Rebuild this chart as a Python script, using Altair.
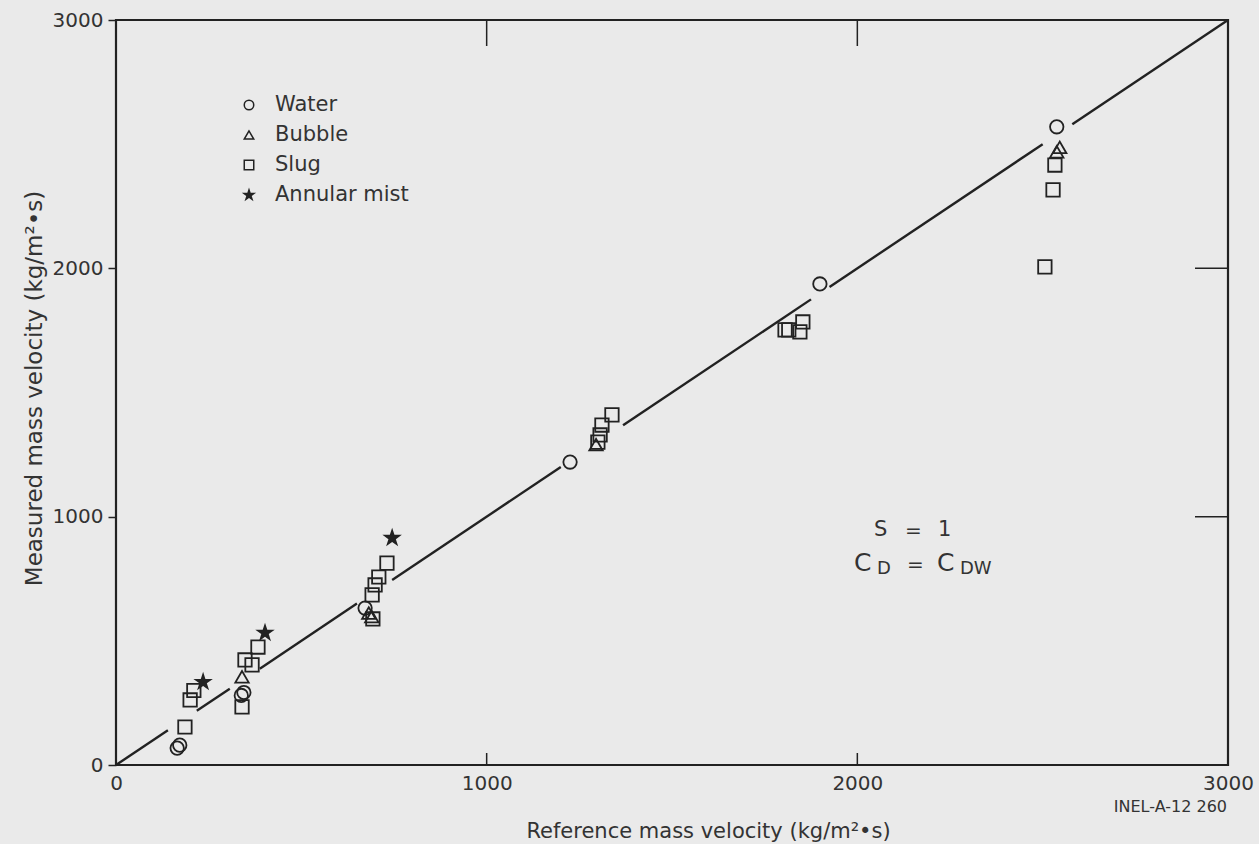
import altair as alt
import pandas as pd

# ---- data ----
water_x = [165, 172, 338, 345, 672, 1225, 1899, 2538]
water_y = [68, 80, 280, 292, 632, 1220, 1937, 2570]

bubble_x = [340, 682, 690, 1295, 2538, 2546]
bubble_y = [355, 612, 598, 1290, 2469, 2487]

slug_x = [186, 200, 210, 340, 348, 367, 383, 691, 699, 709, 731, 693,
          1300, 1306, 1311, 1338, 1805, 1815, 1845, 1853, 2533, 2528, 2506]
slug_y = [153, 262, 300, 234, 423, 403, 475, 685, 725, 757, 813, 588,
          1300, 1329, 1369, 1410, 1752, 1752, 1744, 1784, 2416, 2316, 2006]

mist_x = [235, 402, 745]
mist_y = [334, 532, 914]

regimes = ["Water", "Bubble", "Slug", "Annular mist"]

# the 1:1 line, drawn in pieces with gaps around the data points
seg_start = [0, 218, 388, 745, 1368, 1925, 2580]
seg_end = [140, 307, 650, 1200, 1875, 2500, 3000]

tick_values = [1000, 2000]
axis_values = [0, 1000, 2000, 3000]

note_text = ["S", "=", "1", "C", "D", "=", "C", "DW"]

# five-pointed star outline in the unit box (-1..1)
STAR = ("M0,-1L0.2245,-0.309L0.951,-0.309L0.363,0.118L0.588,0.809L0,0.382"
        "L-0.588,0.809L-0.363,0.118L-0.951,-0.309L-0.2245,-0.309Z")
shapes = ["circle", "triangle-up", "square", STAR]
filled = [False, False, False, True]

series = [(water_x, water_y), (bubble_x, bubble_y), (slug_x, slug_y), (mist_x, mist_y)]
segs = pd.DataFrame({"ref": seg_start, "meas": seg_start, "e": seg_end})
ticks = pd.DataFrame({"ref": tick_values, "meas": tick_values})

W, H = 1112, 745
INK = "#222222"
TXT = "#333333"
FONT = "DejaVu Sans"

xscale = alt.Scale(domain=[0, 3000], nice=False, zero=False)
yscale = alt.Scale(domain=[0, 3000], nice=False, zero=False)

x_axis = alt.Axis(orient="bottom", values=axis_values, format="d",
                  title="Reference mass velocity (kg/m²•s)",
                  grid=False, ticks=False, domain=False, labelPadding=8, labelFlush=False,
                  labelFont=FONT, labelFontSize=20, labelColor=TXT,
                  titleFont=FONT, titleFontSize=21, titleFontWeight="normal",
                  titleColor=TXT, titleX=592, titleY=66,
                  titleBaseline="middle", titleAlign="center")
y_axis = alt.Axis(orient="left", values=axis_values, format="d",
                  title="Measured mass velocity (kg/m²•s)",
                  grid=False, ticks=True, tickSize=8, tickColor=INK, tickWidth=1.5,
                  domain=False, labelPadding=5, labelFlush=False,
                  labelFont=FONT, labelFontSize=20, labelColor=TXT,
                  titleFont=FONT, titleFontSize=23, titleFontWeight="normal",
                  titleColor=TXT, titleX=-82, titleY=368, titleAngle=270,
                  titleBaseline="middle", titleAlign="center")

X = alt.X("ref:Q", scale=xscale, axis=x_axis)
Y = alt.Y("meas:Q", scale=yscale, axis=y_axis)

line = alt.Chart(segs).mark_rule(color=INK, strokeWidth=2.4).encode(
    x=X, y=Y, x2="e:Q", y2="e:Q")

top_ticks = alt.Chart(ticks).mark_rule(color=INK, strokeWidth=1.5).encode(
    x=X, y=alt.value(0), y2=alt.value(26))
bottom_ticks = alt.Chart(ticks).mark_rule(color=INK, strokeWidth=1.5).encode(
    x=X, y=alt.value(H), y2=alt.value(H - 12))
right_ticks = alt.Chart(ticks).mark_rule(color=INK, strokeWidth=1.5).encode(
    y=Y, x=alt.value(W - 33), x2=alt.value(W))

data_layers = []
for (xs, ys), name, shp, fl in zip(series, regimes, shapes, filled):
    df = pd.DataFrame({"ref": xs, "meas": ys, "regime": name})
    data_layers.append(
        alt.Chart(df).mark_point(filled=fl, shape=shp, size=(420 if fl else 180), color=INK,
                                 strokeWidth=1.8, opacity=1).encode(x=X, y=Y)
    )

# annotation pieces (pixel placement inside the plot area)
notes_df = pd.DataFrame({
    "t": note_text,
    "px": [758, 789, 822, 738, 761, 791, 821, 844],
    "py": [510, 511, 510, 543, 549, 545, 543, 549],
    "fs": [21, 20, 21, 25, 18, 20, 25, 18],
})
notes = alt.Chart(notes_df).mark_text(font=FONT, color=TXT, align="left", baseline="middle").encode(
    text="t:N",
    x=alt.X("px:Q", scale=None, axis=None),
    y=alt.Y("py:Q", scale=None, axis=None),
    size=alt.Size("fs:Q", scale=None, legend=None),
)
inel = alt.Chart(pd.DataFrame({"t": ["INEL-A-12 260"]})).mark_text(
    font=FONT, fontSize=16, color=TXT, align="right", baseline="middle").encode(
    text="t:N", x=alt.value(1111), y=alt.value(787))

# hand-built key
key_df = pd.DataFrame({"regime": regimes, "py": [85 + 30 * i for i in range(len(regimes))]})
key_txt = alt.Chart(key_df).mark_text(font=FONT, fontSize=21, color=TXT, align="left", baseline="middle").encode(
    x=alt.value(159),
    y=alt.Y("py:Q", scale=None, axis=None),
    text="regime:N",
)
key_syms = []
for i, (shp, fl) in enumerate(zip(shapes, filled)):
    key_syms.append(
        alt.Chart(key_df.iloc[i:i + 1]).mark_point(
            filled=fl, shape=shp, size=(230 if fl else 90), color=INK, strokeWidth=1.5, opacity=1).encode(
            x=alt.value(133),
            y=alt.Y("py:Q", scale=None, axis=None),
        )
    )

chart = alt.layer(line, top_ticks, bottom_ticks, right_ticks, *data_layers,
                  notes, inel, key_txt, *key_syms).properties(
    width=W, height=H,
    autosize=alt.AutoSizeParams(type="none"),
    padding={"left": 116, "top": 20, "right": 31, "bottom": 79},
    background="#eaeaea",
).configure_view(stroke=INK, strokeWidth=2.2, fill="#eaeaea")

chart.save("out.html", embed_options={"renderer": "svg", "actions": False})
